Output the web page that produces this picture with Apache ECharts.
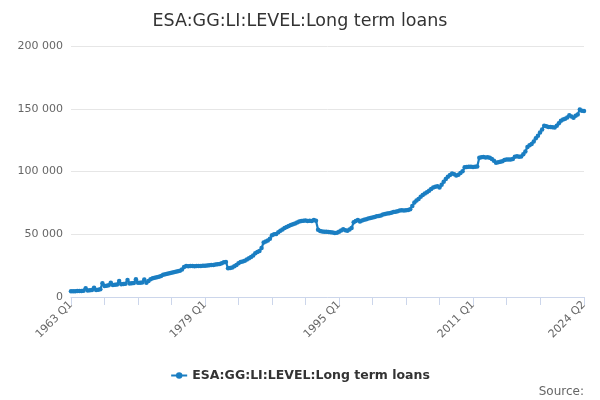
<!DOCTYPE html>
<html>
<head>
<meta charset="utf-8">
<script src="https://cdn.jsdelivr.net/npm/echarts@6/dist/echarts.min.js"></script>
<style>html,body{margin:0;padding:0;background:#fff}#c{width:600px;height:400px}</style>
</head>
<body>
<div id="c"></div>
<script>
var seriesName = 'ESA:GG:LI:LEVEL:Long term loans';
var startYear = 1963;
var values = [
  4500, 4500, 4600, 4700,
  4700, 4800, 4900, 6900,
  5200, 5400, 5600, 7300,
  5500, 5800, 6200, 10900,
  8800, 9000, 9300, 11400,
  9600, 9800, 10000, 12700,
  10100, 10300, 10500, 13500,
  10700, 10900, 11100, 14100,
  11300, 11400, 11500, 14000,
  11400, 12800, 14200, 14900,
  15300, 15700, 16200, 16700,
  17700, 18200, 18600, 19000,
  19300, 19700, 20200, 20500,
  21000, 22000, 24000, 24700,
  24600, 24700, 24800, 24600,
  24700, 24800, 24700, 24900,
  25000, 25100, 25200, 25400,
  25500, 25800, 26000, 26300,
  26800, 27600, 27800, 22900,
  23200, 23500, 24500, 25500,
  26800, 27800, 28300, 28800,
  29800, 30800, 31800, 33000,
  34800, 35800, 36700, 39000,
  43500, 44300, 45000, 46500,
  49300, 50000, 50100, 51600,
  52800, 53800, 55000, 55800,
  56600, 57400, 58000, 58500,
  59300, 60200, 60500, 60800,
  61000, 60600, 60800, 60500,
  61300, 60700, 53500, 52500,
  52200, 52000, 51900, 51800,
  51500, 51300, 50900, 51200,
  52000, 53000, 53900, 53200,
  52800, 53800, 55000, 59500,
  60500, 61300, 60200, 61000,
  61500, 62000, 62500, 62900,
  63300, 63800, 64300, 64600,
  65000, 65700, 66200, 66500,
  66800, 67200, 67800, 68000,
  68300, 69000, 69200, 68900,
  69200, 69400, 70000, 72500,
  75200, 76800, 78000, 79800,
  81200, 82500, 83500, 84600,
  86000, 87200, 87800, 88200,
  87200, 89500, 91800, 94000,
  95800, 97300, 98400, 97800,
  96800, 97500, 98800, 100200,
  103300, 103600, 103800, 103700,
  103600, 103800, 104000, 111000,
  111300, 111500, 111200, 111400,
  111000, 110000, 108500, 107000,
  107300, 107800, 108200, 109200,
  109500, 109500, 109600, 110000,
  111800, 112200, 111800, 112000,
  113800, 116000, 119500, 121000,
  122000, 124000, 126500, 128500,
  131000, 133500, 136500, 136000,
  135500, 135500, 135200, 135000,
  136500, 138500, 140500, 141500,
  142000, 143000, 144800, 143800,
  142800, 144500, 145500, 149500,
  148500, 148200
];
var categories = values.map(function (v, i) {
  return (startYear + Math.floor(i / 4)) + ' Q' + (i % 4 + 1);
});
var yTicks = [0, 50000, 100000, 150000, 200000];
var lastIdx = categories.length - 1;

var chart = echarts.init(document.getElementById('c'));
chart.setOption({
  animation: false,
  textStyle: { fontFamily: 'DejaVu Sans' },
  title: [
    { text: seriesName, left: 'center', top: 7,
      textStyle: { fontSize: 17.5, fontWeight: 'normal', color: '#333', fontFamily: 'DejaVu Sans' } },
    { text: 'Source:', right: 11, top: 381,
      textStyle: { fontSize: 12, fontWeight: 'normal', color: '#666', fontFamily: 'DejaVu Sans' } }
  ],
  legend: {
    top: 364, left: 'center', itemWidth: 16, itemHeight: 8,
    textStyle: { fontSize: 12.5, fontWeight: 'bold', color: '#333', fontFamily: 'DejaVu Sans' },
    data: [seriesName]
  },
  grid: { left: 71, right: 16, top: 46, bottom: 103, containLabel: false },
  xAxis: {
    type: 'category', data: categories, boundaryGap: false,
    axisLine: { lineStyle: { color: '#ccd6eb' } },
    axisTick: { length: 8, lineStyle: { color: '#ccd6eb' },
      interval: function (i) { return (i % 16 === 0 && i <= 224) || i === lastIdx; } },
    axisLabel: { rotate: 45, color: '#666', fontSize: 11, margin: 6,
      interval: function (i) { return i % 64 === 0 || i === lastIdx; } },
    splitLine: { show: false }
  },
  yAxis: {
    type: 'value', min: yTicks[0], max: yTicks[yTicks.length - 1], interval: 50000,
    axisLine: { show: false }, axisTick: { show: false },
    axisLabel: { color: '#666', fontSize: 11, margin: 8,
      formatter: function (v) { return String(v).replace(/\B(?=(\d{3})+(?!\d))/g, ' '); } },
    splitLine: { lineStyle: { color: '#e6e6e6' } }
  },
  series: [{
    name: seriesName, type: 'line', data: values,
    symbol: 'circle', symbolSize: 4.5, showAllSymbol: true,
    lineStyle: { width: 2.2, color: '#1a7ec2' },
    itemStyle: { color: '#1a7ec2' }
  }]
});
</script>
</body>
</html>
